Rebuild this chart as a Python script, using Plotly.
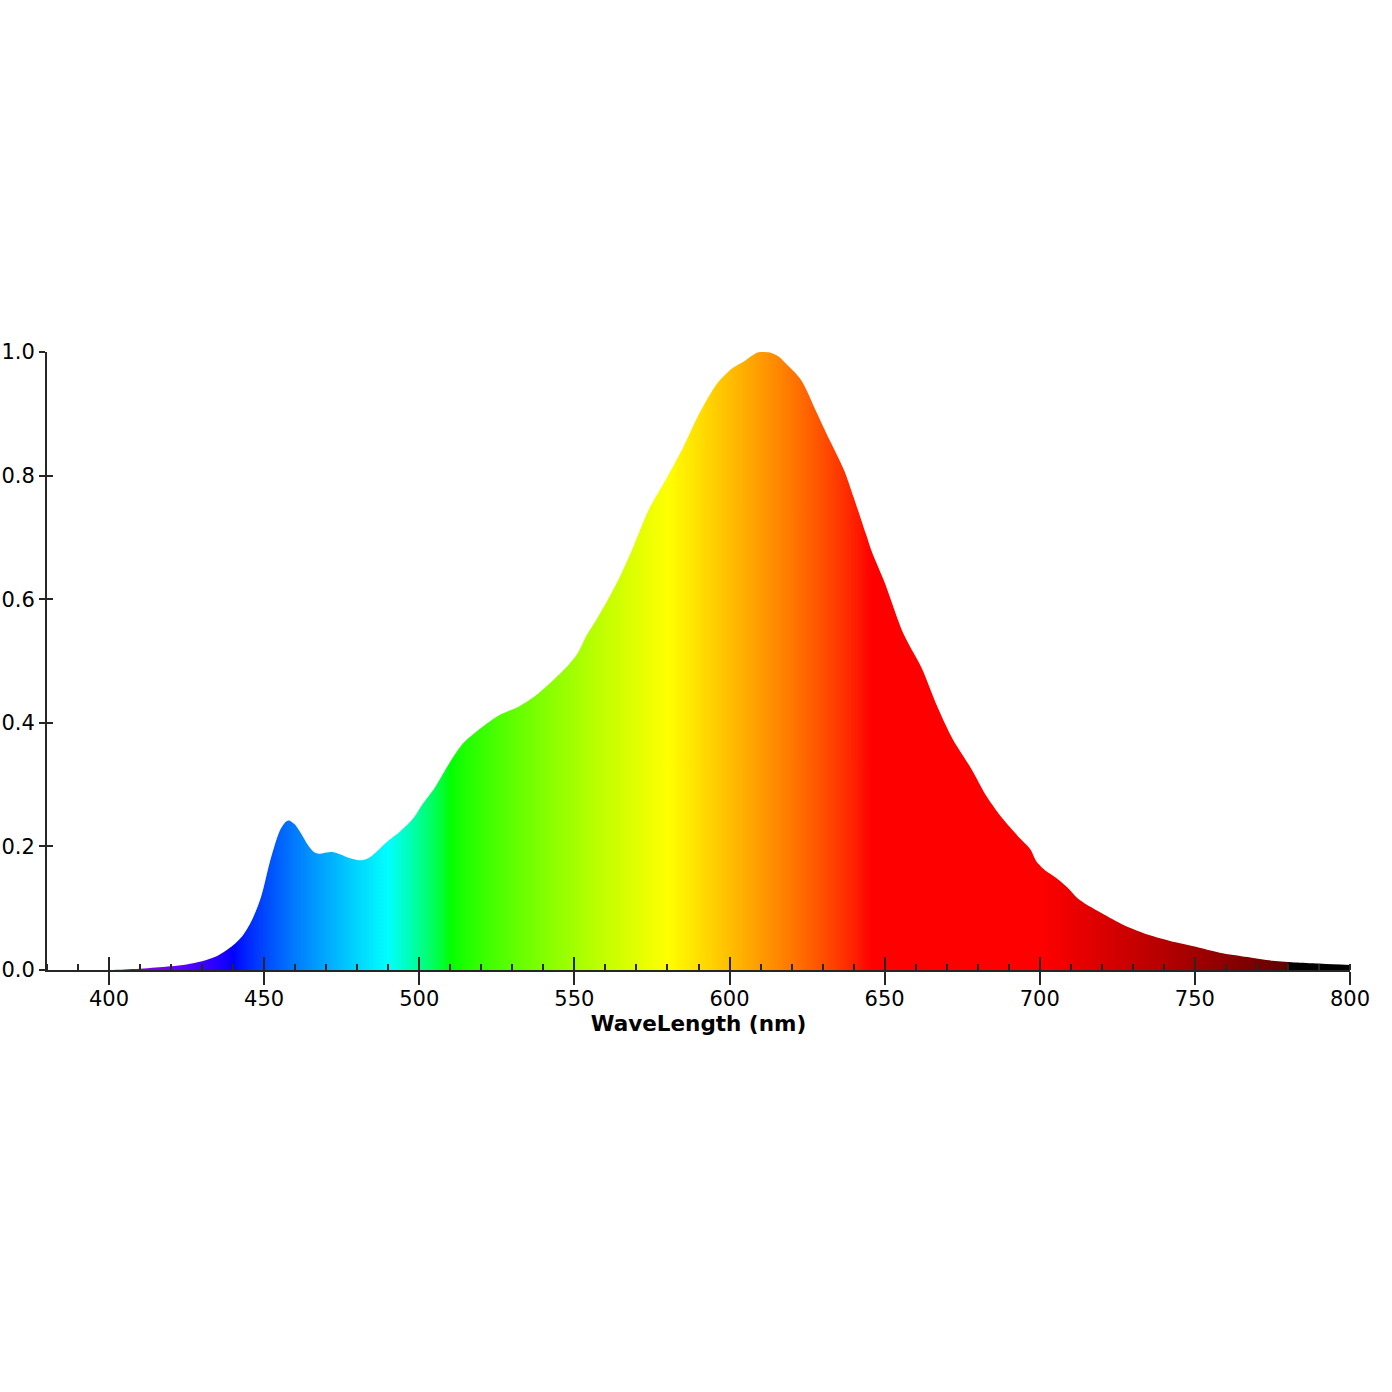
import plotly.graph_objects as go

# Spectrum data (wavelength nm, relative intensity)
wavelength = [380, 390, 400, 405, 410, 415, 420, 425, 430, 435, 440, 443, 446, 449,
              452, 455, 457, 458, 460, 462, 464, 466, 468, 470, 472, 474, 477, 480,
              482, 484, 487, 490, 494, 498, 501, 505, 509, 514, 520, 526, 532, 537,
              543, 548, 551, 554, 557, 561, 565, 569, 574, 580, 585, 590, 596, 601,
              605, 609, 611, 613, 616, 618, 623, 628, 632, 634, 637, 640, 644, 646,
              650, 656, 662, 667, 672, 678, 683, 688, 694, 697, 699, 702, 705, 709,
              712, 716, 720, 727, 735, 742, 750, 758, 767, 775, 783, 791, 800]
intensity = [0.0, 0.0, 0.0, 0.001, 0.002, 0.004, 0.006, 0.009, 0.014, 0.023, 0.040, 0.055,
             0.080, 0.118, 0.178, 0.225, 0.240, 0.242, 0.235, 0.220, 0.203, 0.191, 0.188,
             0.190, 0.191, 0.188, 0.182, 0.178, 0.178, 0.182, 0.195, 0.209, 0.225, 0.245,
             0.268, 0.295, 0.329, 0.366, 0.392, 0.413, 0.426, 0.442, 0.468, 0.493, 0.512,
             0.542, 0.566, 0.601, 0.640, 0.685, 0.745, 0.798, 0.845, 0.898, 0.949, 0.974,
             0.986, 0.999, 1.0, 0.999, 0.992, 0.982, 0.955, 0.903, 0.860, 0.840, 0.808,
             0.765, 0.705, 0.675, 0.627, 0.545, 0.488, 0.426, 0.373, 0.325, 0.280, 0.245,
             0.211, 0.195, 0.175, 0.160, 0.150, 0.133, 0.117, 0.103, 0.092, 0.073, 0.057,
             0.047, 0.038, 0.028, 0.021, 0.015, 0.012, 0.010, 0.008]

x_ticks = [400, 450, 500, 550, 600, 650, 700, 750, 800]
y_ticks = [0.0, 0.2, 0.4, 0.6, 0.8, 1.0]
X_MIN, X_MAX = 380, 800


def wl_rgb(w, gamma=0.8):
    if 380 <= w < 440:
        r, g, b = -(w - 440) / 60.0, 0.0, 1.0
    elif 440 <= w < 490:
        r, g, b = 0.0, (w - 440) / 50.0, 1.0
    elif 490 <= w < 510:
        r, g, b = 0.0, 1.0, -(w - 510) / 20.0
    elif 510 <= w < 580:
        r, g, b = (w - 510) / 70.0, 1.0, 0.0
    elif 580 <= w < 645:
        r, g, b = 1.0, -(w - 645) / 65.0, 0.0
    elif 645 <= w <= 780:
        r, g, b = 1.0, 0.0, 0.0
    else:
        r, g, b = 0.0, 0.0, 0.0
    if 380 <= w < 420:
        f = 0.3 + 0.7 * (w - 380) / 40.0
    elif 420 <= w < 700:
        f = 1.0
    elif 700 <= w <= 780:
        f = 0.3 + 0.7 * (780 - w) / 80.0
    else:
        f = 0.0
    c = [int(round(255 * ((v * f) ** gamma))) if v * f > 0 else 0 for v in (r, g, b)]
    return "rgb(%d,%d,%d)" % tuple(c)


stops = list(range(380, 781, 2)) + [780.5, 800]
colorscale = [[(w - X_MIN) / (X_MAX - X_MIN), wl_rgb(w)] for w in stops]

fig = go.Figure()
fig.add_trace(go.Scatter(
    x=wavelength, y=intensity, mode="lines", line=dict(width=0, shape="spline", smoothing=0.8),
    fill="tozeroy",
    fillgradient=dict(type="horizontal", colorscale=colorscale, start=X_MIN, stop=X_MAX),
    hoverinfo="skip", showlegend=False,
))
# helper trace for the overlay axes (inside halves of crossing ticks)
fig.add_trace(go.Scatter(x=[], y=[], xaxis="x2", yaxis="y2", showlegend=False, hoverinfo="skip"))

axis_col = "#262626"
font_main = dict(family="DejaVu Sans", size=21, color="black")

fig.update_layout(
    width=1392, height=1392,
    paper_bgcolor="white", plot_bgcolor="white",
    margin=dict(l=47, r=42, t=352, b=422, autoexpand=False),
    font=font_main,
    showlegend=False,
    xaxis=dict(
        range=[X_MIN, X_MAX], tickvals=x_ticks, ticktext=[str(v) for v in x_ticks],
        ticks="outside", ticklen=13, tickwidth=2, tickcolor=axis_col,
        showline=True, linewidth=2, linecolor=axis_col,
        showgrid=False, zeroline=False, tickfont=font_main, ticklabelstandoff=-4,
        minor=dict(dtick=10, tick0=380, ticks="inside", ticklen=6, tickwidth=2,
                   tickcolor=axis_col, showgrid=False),
        title=dict(text="WaveLength (nm)", standoff=2,
                   font=dict(family="DejaVu Sans", size=21.5, color="black", weight="bold")),
        automargin=False,
    ),
    xaxis2=dict(
        range=[X_MIN, X_MAX], overlaying="x", anchor="y", side="bottom",
        tickvals=x_ticks, ticks="inside", ticklen=13, tickwidth=2, tickcolor=axis_col,
        showticklabels=False, showline=False, showgrid=False, zeroline=False,
    ),
    yaxis=dict(
        range=[0, 1.0], tickvals=y_ticks, ticktext=["%.1f" % v for v in y_ticks],
        ticks="outside", ticklen=6, tickwidth=2, tickcolor=axis_col,
        showline=True, linewidth=2, linecolor=axis_col,
        showgrid=False, zeroline=False, tickfont=font_main, automargin=False,
    ),
    yaxis2=dict(
        range=[0, 1.0], overlaying="y", anchor="x", side="left",
        tickvals=y_ticks, ticks="inside", ticklen=6, tickwidth=2, tickcolor=axis_col,
        showticklabels=False, showline=False, showgrid=False, zeroline=False,
    ),
)

fig.write_html("out.html")
